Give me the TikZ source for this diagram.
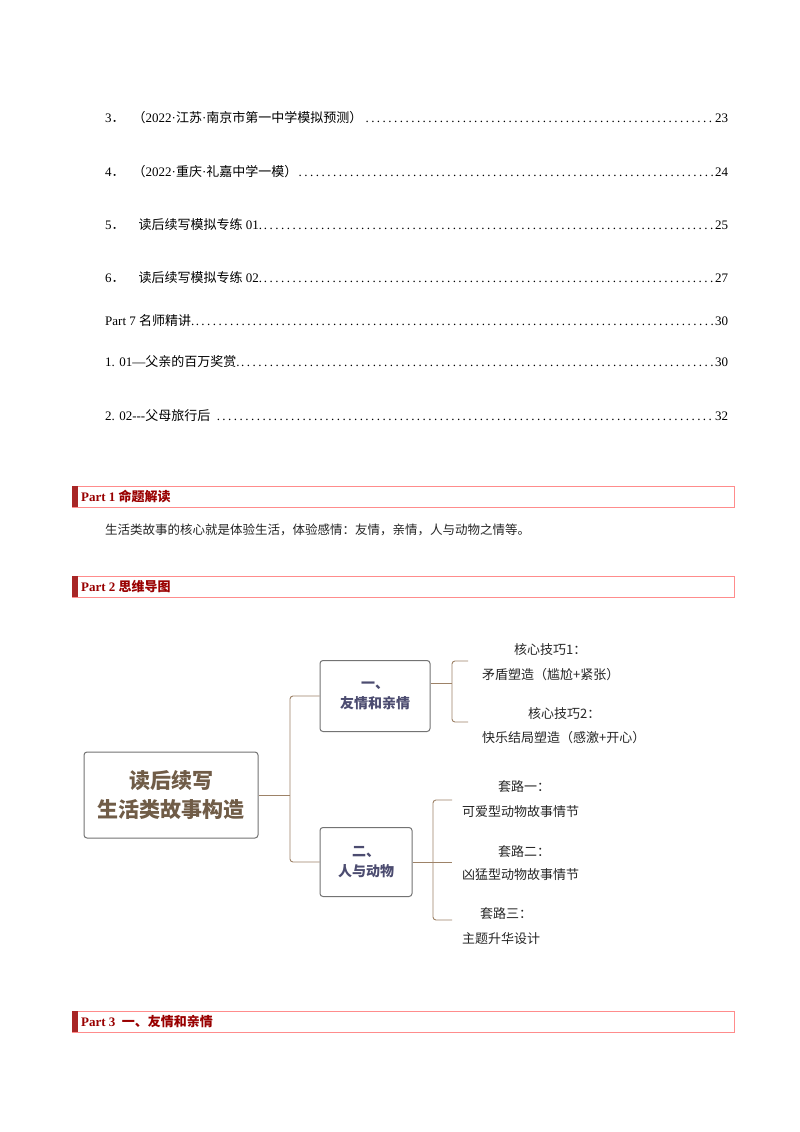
\documentclass[tikz,border=0pt]{standalone}
\usepackage{fontspec}
\setmainfont{Liberation Serif}
\newfontfamily\cjk{Noto Sans CJK SC}
\begin{document}
\begin{tikzpicture}[x=1pt,y=-1pt,
  toc/.style={anchor=west,inner sep=0,font=\fontsize{13}{15}\selectfont},
  hdr/.style={draw=red!45!white,line width=0.8pt},
  hdrtxt/.style={anchor=west,inner sep=0,text=red!60!black,font=\fontsize{13}{15}\selectfont\bfseries},
  mbox/.style={draw=black!55,line width=1pt,rounded corners=3pt,fill=white},
  btxt/.style={font=\cjk\fontsize{14}{20}\selectfont\bfseries,text=black!65!blue!40!gray,align=center},
  lbl/.style={font=\cjk\fontsize{13}{15}\selectfont,text=black!85,anchor=west,inner sep=0},
  br/.style={draw=brown!60!black!70,line width=0.9pt,rounded corners=3pt}]
\fill[white] (0,0) rectangle (800,1132);
\useasboundingbox (0,0) rectangle (800,1132);
% TOC
\node[toc] (t3) at (105,118) {\parbox{623pt}{3{\cjk ．}\hspace{8pt}{\cjk （}2022·{\cjk 江苏}·{\cjk 南京市第一中学模拟预测）}\dotfill 23}};
\node[toc] (t4) at (105,172) {\parbox{623pt}{4{\cjk ．}\hspace{8pt}{\cjk （}2022·{\cjk 重庆}·{\cjk 礼嘉中学一模）}\dotfill 24}};
\node[toc] (t5) at (105,225) {\parbox{623pt}{5{\cjk ．}\hspace{14pt}{\cjk 读后续写模拟专练} 01.\dotfill 25}};
\node[toc] (t6) at (105,278) {\parbox{623pt}{6{\cjk ．}\hspace{14pt}{\cjk 读后续写模拟专练} 02.\dotfill 27}};
\node[toc] (t7) at (105,321) {\parbox{623pt}{Part 7 {\cjk 名师精讲}.\dotfill 30}};
\node[toc] (t8) at (105,362) {\parbox{623pt}{1. 01---{\cjk 父亲的百万奖赏}.\dotfill 30}};
\node[toc] (t9) at (105,416) {\parbox{623pt}{2. 02{-}{-}{-}{\cjk 父母旅行后}\ \dotfill 32}};
% Part headers
\foreach \y/\t [count=\i] in {486/{Part 1 {\cjk\bfseries 命题解读}},576/{Part 2 {\cjk\bfseries 思维导图}},1011/{Part 3\ \ {\cjk\bfseries 一、友情和亲情}}}{
  \draw[hdr] (72,\y) rectangle (734,\y+21);
  \fill[red!60!black!85] (72,\y) rectangle (78,\y+21);
  \node[hdrtxt] (h\i) at (81,\y+10.5) {\t};
}
\node[anchor=west,inner sep=0,font=\cjk\fontsize{12.5}{15}\selectfont,text=black!85] (body) at (105,530) {生活类故事的核心就是体验生活，体验感情：友情，亲情，人与动物之情等。};
% Mind map
\node[mbox,minimum width=174pt,minimum height=86pt,font=\cjk\fontsize{21}{29}\selectfont\bfseries,text=brown!40!black!80,align=center] (root) at (171,795) {读后续写\\生活类故事构造};
\node[mbox,minimum width=110pt,minimum height=71pt,btxt] (b1) at (375,696) {一、\\友情和亲情};
\node[mbox,minimum width=92pt,minimum height=69pt,btxt] (b2) at (366,862) {二、\\人与动物};
\coordinate (j) at (290,795);
\draw[br] (root.east) -- (j);
\draw[br] (b1.west) -| (j) |- (b2.west);
% bracket 1
\coordinate (k1) at (452,683);
\draw[br] (b1.east|-k1) -- (k1);
\draw[br] (468,661) -| (k1) |- (468,722);
% bracket 2
\coordinate (k2) at (433,862);
\draw[br] (b2.east) -- (k2) -- (452,862);
\draw[br] (452,800) -| (k2) |- (452,920);
\node[lbl] (l1a) at (514,650) {核心技巧1：};
\node[lbl] (l1b) at (482,675) {矛盾塑造（尴尬+紧张）};
\node[lbl] (l2a) at (528,714) {核心技巧2：};
\node[lbl] (l2b) at (482,738) {快乐结局塑造（感激+开心）};
\node[lbl] (l3a) at (498,787) {套路一：};
\node[lbl] (l3b) at (462,812) {可爱型动物故事情节};
\node[lbl] (l4a) at (498,852) {套路二：};
\node[lbl] (l4b) at (462,875) {凶猛型动物故事情节};
\node[lbl] (l5a) at (480,914) {套路三：};
\node[lbl] (l5b) at (462,939) {主题升华设计};
\end{tikzpicture}
\end{document}
